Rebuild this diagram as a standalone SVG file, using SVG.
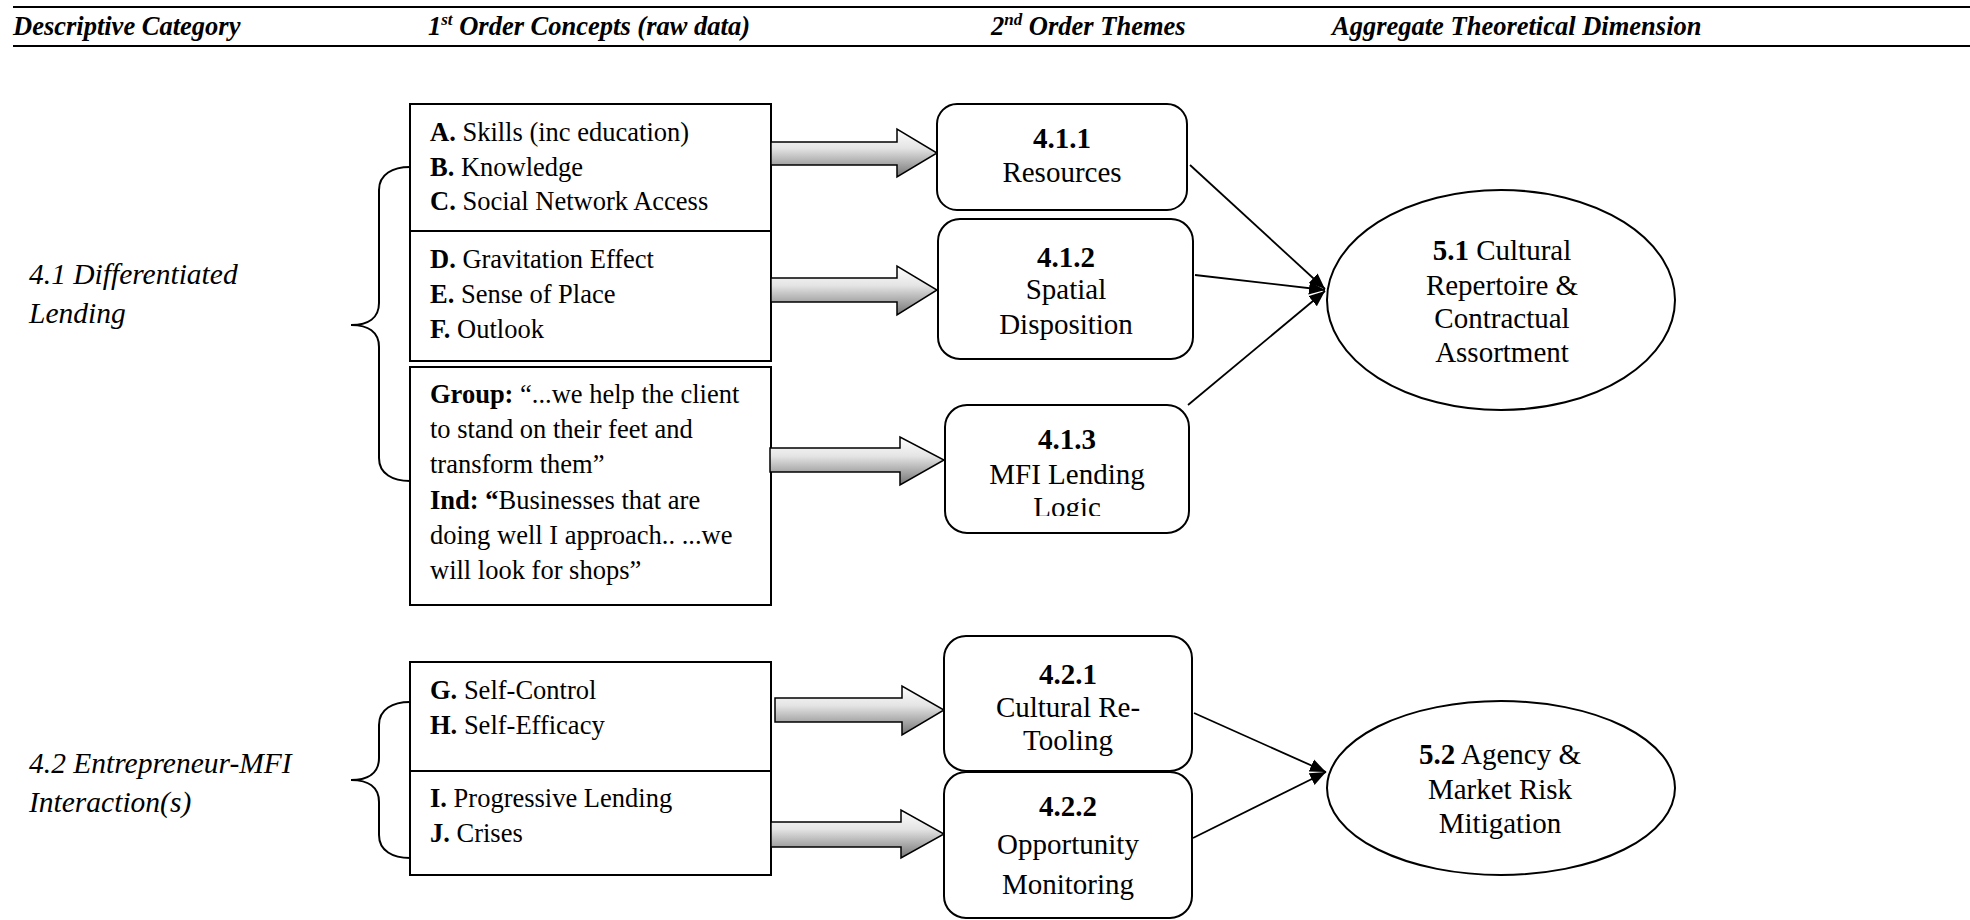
<svg xmlns="http://www.w3.org/2000/svg" width="1970" height="920" viewBox="0 0 1970 920">
  <style>
    text { font-family: "Liberation Serif", "Times New Roman", serif; fill: #000; }
    .hdr { font-size: 26.5px; font-weight: bold; font-style: italic; }
    .lbl { font-size: 29.5px; font-style: italic; }
    .c1 { font-size: 26.5px; }
    .c2 { font-size: 29px; text-anchor: middle; }
    .b { font-weight: bold; }
    .rule { stroke: #000; stroke-width: 2; }
    .box { fill: #fff; stroke: #000; stroke-width: 2; }
    .brace { fill: none; stroke: #000; stroke-width: 2; }
    .blk { fill: url(#shade); stroke: #000; stroke-width: 1.5; }
    .link { fill: none; stroke: #000; stroke-width: 1.8; marker-end: url(#ah); }
  </style>
  <defs>
    <linearGradient id="shade" x1="0" y1="0" x2="0" y2="1">
      <stop offset="0" stop-color="#ffffff"/>
      <stop offset="0.4" stop-color="#e4e4e4"/>
      <stop offset="1" stop-color="#747474"/>
    </linearGradient>
    <marker id="ah" markerUnits="userSpaceOnUse" markerWidth="18" markerHeight="14" refX="16" refY="7" orient="auto">
      <path d="M0,0.5 L16,7 L0,13.5 z" fill="#000"/>
    </marker>
    <clipPath id="clip413">
      <rect x="945" y="405" width="244" height="111"/>
    </clipPath>
  </defs>

  <!-- column header -->
  <g id="header">
    <line class="rule" x1="13" y1="7" x2="1970" y2="7"/>
    <line class="rule" x1="13" y1="46" x2="1970" y2="46"/>
    <text class="hdr" x="13" y="35">Descriptive Category</text>
    <text class="hdr" x="428" y="35">1<tspan font-size="17" dy="-10">st</tspan><tspan dy="10"> Order Concepts (raw data)</tspan></text>
    <text class="hdr" x="991" y="35">2<tspan font-size="17" dy="-10">nd</tspan><tspan dy="10"> Order Themes</tspan></text>
    <text class="hdr" x="1332" y="35">Aggregate Theoretical Dimension</text>
  </g>

  <!-- descriptive categories -->
  <g id="cat-4-1">
    <text class="lbl" x="29" y="284">4.1 Differentiated</text>
    <text class="lbl" x="29" y="323">Lending</text>
    <path class="brace" d="M410,167 C393,167 379,174 379,190 L379,303 C379,318 368,325 351,325 C368,325 379,332 379,347 L379,458 C379,474 393,481 410,481"/>
  </g>
  <g id="cat-4-2">
    <text class="lbl" x="29" y="773">4.2 Entrepreneur-MFI</text>
    <text class="lbl" x="29" y="812">Interaction(s)</text>
    <path class="brace" d="M410,702 C393,702 379,709 379,725 L379,758 C379,773 368,780 351,780 C368,780 379,787 379,802 L379,835 C379,851 393,858 410,858"/>
  </g>

  <!-- first order concepts -->
  <g id="concepts-a-f">
    <rect class="box" x="410" y="104" width="361" height="257"/>
    <line class="rule" x1="410" y1="231" x2="771" y2="231"/>
    <text class="c1" x="430" y="141"><tspan class="b">A.</tspan> Skills (inc education)</text>
    <text class="c1" x="430" y="176"><tspan class="b">B.</tspan> Knowledge</text>
    <text class="c1" x="430" y="210"><tspan class="b">C.</tspan> Social Network Access</text>
    <text class="c1" x="430" y="268"><tspan class="b">D.</tspan> Gravitation Effect</text>
    <text class="c1" x="430" y="303"><tspan class="b">E.</tspan> Sense of Place</text>
    <text class="c1" x="430" y="338"><tspan class="b">F.</tspan> Outlook</text>
  </g>
  <g id="concepts-quotes">
    <rect class="box" x="410" y="367" width="361" height="238"/>
    <text class="c1" x="430" y="403"><tspan class="b">Group:</tspan> “...we help the client</text>
    <text class="c1" x="430" y="438">to stand on their feet and</text>
    <text class="c1" x="430" y="473">transform them”</text>
    <text class="c1" x="430" y="509"><tspan class="b">Ind: “</tspan>Businesses that are</text>
    <text class="c1" x="430" y="544">doing well I approach.. ...we</text>
    <text class="c1" x="430" y="579">will look for shops”</text>
  </g>
  <g id="concepts-g-j">
    <rect class="box" x="410" y="662" width="361" height="213"/>
    <line class="rule" x1="410" y1="771" x2="771" y2="771"/>
    <text class="c1" x="430" y="699"><tspan class="b">G.</tspan> Self-Control</text>
    <text class="c1" x="430" y="734"><tspan class="b">H.</tspan> Self-Efficacy</text>
    <text class="c1" x="430" y="807"><tspan class="b">I.</tspan> Progressive Lending</text>
    <text class="c1" x="430" y="842"><tspan class="b">J.</tspan> Crises</text>
  </g>

  <!-- block arrows from concepts to themes -->
  <g id="block-arrows">
    <path class="blk" d="M771,142 H897 V129 L937,153 L897,177 V165 H771 Z"/>
    <path class="blk" d="M771,278 H897 V266 L937,290 L897,315 V302 H771 Z"/>
    <path class="blk" d="M770,448 H900 V437 L944,460 L900,485 V472 H770 Z"/>
    <path class="blk" d="M775,698 H902 V686 L944,710 L902,735 V722 H775 Z"/>
    <path class="blk" d="M771,822 H901 V810 L944,834 L901,858 V847 H771 Z"/>
  </g>

  <!-- second order themes -->
  <g id="theme-4-1-1">
    <rect class="box" x="937" y="104" width="250" height="106" rx="20"/>
    <text class="c2" x="1062" y="148"><tspan class="b">4.1.1</tspan></text>
    <text class="c2" x="1062" y="182">Resources</text>
  </g>
  <g id="theme-4-1-2">
    <rect class="box" x="938" y="219" width="255" height="140" rx="22"/>
    <text class="c2" x="1066" y="267"><tspan class="b">4.1.2</tspan></text>
    <text class="c2" x="1066" y="299">Spatial</text>
    <text class="c2" x="1066" y="334">Disposition</text>
  </g>
  <g id="theme-4-1-3">
    <rect class="box" x="945" y="405" width="244" height="128" rx="22"/>
    <g clip-path="url(#clip413)">
      <text class="c2" x="1067" y="449"><tspan class="b">4.1.3</tspan></text>
      <text class="c2" x="1067" y="484">MFI Lending</text>
      <text class="c2" x="1067" y="517">Logic</text>
    </g>
  </g>
  <g id="theme-4-2-1">
    <rect class="box" x="944" y="636" width="248" height="135" rx="22"/>
    <text class="c2" x="1068" y="684"><tspan class="b">4.2.1</tspan></text>
    <text class="c2" x="1068" y="717">Cultural Re-</text>
    <text class="c2" x="1068" y="750">Tooling</text>
  </g>
  <g id="theme-4-2-2">
    <rect class="box" x="944" y="772" width="248" height="146" rx="22"/>
    <text class="c2" x="1068" y="816"><tspan class="b">4.2.2</tspan></text>
    <text class="c2" x="1068" y="854">Opportunity</text>
    <text class="c2" x="1068" y="894">Monitoring</text>
  </g>

  <!-- links from themes to aggregate dimensions -->
  <g id="links">
    <line class="link" x1="1190" y1="165" x2="1325" y2="289"/>
    <line class="link" x1="1195" y1="275" x2="1325" y2="290"/>
    <line class="link" x1="1188" y1="405" x2="1325" y2="291"/>
    <line class="link" x1="1194" y1="713" x2="1326" y2="772"/>
    <line class="link" x1="1193" y1="838" x2="1326" y2="772"/>
  </g>

  <!-- aggregate theoretical dimensions -->
  <g id="dim-5-1">
    <ellipse class="box" cx="1501" cy="300" rx="174" ry="110"/>
    <text class="c2" x="1502" y="260"><tspan class="b">5.1</tspan> Cultural</text>
    <text class="c2" x="1502" y="295">Repertoire &amp;</text>
    <text class="c2" x="1502" y="328">Contractual</text>
    <text class="c2" x="1502" y="362">Assortment</text>
  </g>
  <g id="dim-5-2">
    <ellipse class="box" cx="1501" cy="788" rx="174" ry="87"/>
    <text class="c2" x="1500" y="764"><tspan class="b">5.2</tspan> Agency &amp;</text>
    <text class="c2" x="1500" y="799">Market Risk</text>
    <text class="c2" x="1500" y="833">Mitigation</text>
  </g>
</svg>
